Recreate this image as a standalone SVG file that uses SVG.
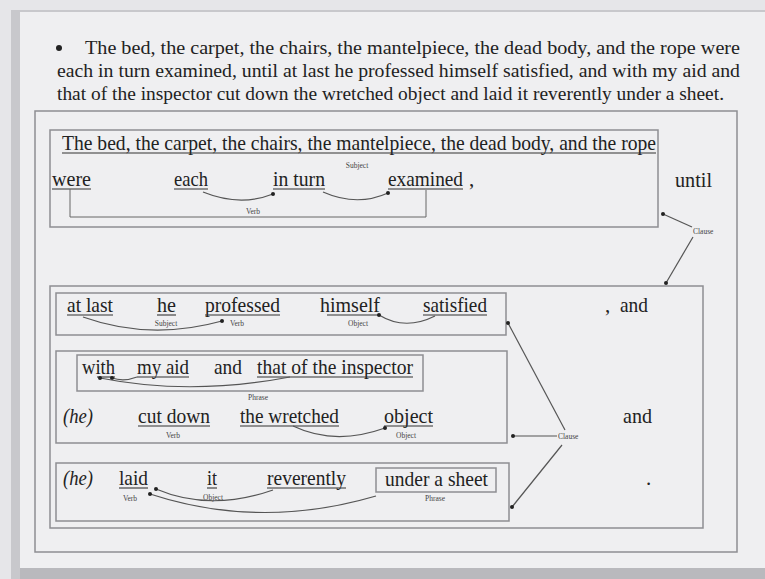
<svg xmlns="http://www.w3.org/2000/svg" width="765" height="579" viewBox="0 0 765 579">
<defs>
<style>
.t{font-family:"Liberation Serif","Times New Roman",serif;font-size:21px;fill:#222}
.h{font-size:19px}
.s{font-family:"Liberation Serif","Times New Roman",serif;font-size:7.5px;fill:#444}
.it{font-style:italic}
.box{fill:none;stroke:#8e8e92;stroke-width:1.5}
.ul{stroke:#333;stroke-width:1.1}
.arc{fill:none;stroke:#555;stroke-width:1.2;marker-end:url(#dot)}
.ln{fill:none;stroke:#666;stroke-width:1}
</style>
<marker id="dot" viewBox="0 0 4 4" refX="2" refY="2" markerWidth="4" markerHeight="4" markerUnits="userSpaceOnUse"><circle cx="2" cy="2" r="2" fill="#222"/></marker>
</defs>
<rect x="0" y="0" width="765" height="579" fill="#e6e6e9"/>
<rect x="11" y="10" width="754" height="569" fill="#c8c8cc"/>
<rect x="20" y="12" width="745" height="556" fill="#efeff1"/>
<rect x="20" y="568" width="745" height="11" fill="#b9b9bd"/>

<g id="header">
<circle cx="59" cy="48" r="3" fill="#222"/>
<text class="t h" x="85" y="54" textLength="655" lengthAdjust="spacingAndGlyphs">The bed, the carpet, the chairs, the mantelpiece, the dead body, and the rope were</text>
<text class="t h" x="57" y="77" textLength="683" lengthAdjust="spacingAndGlyphs">each in turn examined, until at last he professed himself satisfied, and with my aid and</text>
<text class="t h" x="57" y="100" textLength="667" lengthAdjust="spacingAndGlyphs">that of the inspector cut down the wretched object and laid it reverently under a sheet.</text>
</g>

<g id="outer-frame"><rect class="box" x="35" y="111" width="702" height="441"/></g>

<g id="clause-1">
<rect class="box" x="50" y="130" width="608" height="97"/>
<text class="t" x="62" y="150" textLength="594" lengthAdjust="spacingAndGlyphs">The bed, the carpet, the chairs, the mantelpiece, the dead body, and the rope</text>
<line class="ul" x1="62" y1="153" x2="656" y2="153"/>
<text class="s" x="357" y="168" text-anchor="middle">Subject</text>
<text class="t" x="52" y="186" textLength="39" lengthAdjust="spacingAndGlyphs">were</text>
<line class="ul" x1="52" y1="189" x2="91" y2="189"/>
<text class="t" x="174" y="186" textLength="34" lengthAdjust="spacingAndGlyphs">each</text>
<line class="ul" x1="174" y1="189" x2="208" y2="189"/>
<text class="t" x="273" y="186" textLength="52" lengthAdjust="spacingAndGlyphs">in turn</text>
<line class="ul" x1="273" y1="189" x2="325" y2="189"/>
<text class="t" x="388" y="186" textLength="75" lengthAdjust="spacingAndGlyphs">examined</text>
<line class="ul" x1="388" y1="189" x2="463" y2="189"/>
<text class="t" x="469" y="186">,</text>
<text class="s" x="253" y="214" text-anchor="middle">Verb</text>
</g>
<g id="until"><text class="t" x="675" y="187" textLength="37" lengthAdjust="spacingAndGlyphs">until</text></g>

<g id="clause-2-frame"><rect class="box" x="50" y="286" width="653" height="242"/></g>

<g id="clause-2a">
<rect class="box" x="56" y="293" width="450" height="42"/>
<text class="t" x="67" y="312" textLength="46" lengthAdjust="spacingAndGlyphs">at last</text>
<line class="ul" x1="67" y1="315" x2="113" y2="315"/>
<text class="t" x="157" y="312" textLength="19" lengthAdjust="spacingAndGlyphs">he</text>
<line class="ul" x1="157" y1="315" x2="176" y2="315"/>
<text class="t" x="205" y="312" textLength="75" lengthAdjust="spacingAndGlyphs">professed</text>
<line class="ul" x1="205" y1="315" x2="280" y2="315"/>
<text class="t" x="320" y="312" textLength="60" lengthAdjust="spacingAndGlyphs">himself</text>
<line class="ul" x1="327" y1="315" x2="379" y2="315"/>
<text class="t" x="423" y="312" textLength="64" lengthAdjust="spacingAndGlyphs">satisfied</text>
<line class="ul" x1="423" y1="315" x2="487" y2="315"/>
<text class="s" x="166" y="326" text-anchor="middle">Subject</text>
<text class="s" x="237" y="326" text-anchor="middle">Verb</text>
<text class="s" x="358" y="326" text-anchor="middle">Object</text>
</g>
<g id="and-1"><text class="t" x="605" y="312">,</text><text class="t" x="620" y="312" textLength="28" lengthAdjust="spacingAndGlyphs">and</text></g>

<g id="clause-2b">
<rect class="box" x="56" y="351" width="451" height="92"/>
<rect class="box" x="77" y="355" width="346" height="36"/>
<text class="t" x="82" y="374" textLength="33" lengthAdjust="spacingAndGlyphs">with</text>
<line class="ul" x1="97" y1="377" x2="115" y2="377"/>
<text class="t" x="137" y="374" textLength="52" lengthAdjust="spacingAndGlyphs">my aid</text>
<line class="ul" x1="137" y1="377" x2="189" y2="377"/>
<text class="t" x="214" y="374" textLength="28" lengthAdjust="spacingAndGlyphs">and</text>
<text class="t" x="257" y="374" textLength="156" lengthAdjust="spacingAndGlyphs">that of the inspector</text>
<line class="ul" x1="257" y1="377" x2="413" y2="377"/>
<text class="s" x="258" y="400" text-anchor="middle">Phrase</text>
<text class="t it" x="63" y="423" textLength="30" lengthAdjust="spacingAndGlyphs">(he)</text>
<text class="t" x="138" y="423" textLength="72" lengthAdjust="spacingAndGlyphs">cut down</text>
<line class="ul" x1="138" y1="426" x2="210" y2="426"/>
<text class="t" x="240" y="423" textLength="99" lengthAdjust="spacingAndGlyphs">the wretched</text>
<line class="ul" x1="240" y1="426" x2="339" y2="426"/>
<text class="t" x="384" y="423" textLength="49" lengthAdjust="spacingAndGlyphs">object</text>
<line class="ul" x1="384" y1="426" x2="433" y2="426"/>
<text class="s" x="173" y="438" text-anchor="middle">Verb</text>
<text class="s" x="406" y="438" text-anchor="middle">Object</text>
</g>
<g id="and-2"><text class="t" x="623" y="423" textLength="29" lengthAdjust="spacingAndGlyphs">and</text></g>

<g id="clause-2c">
<rect class="box" x="56" y="463" width="453" height="58"/>
<rect class="box" x="376" y="468" width="120" height="24"/>
<text class="t it" x="63" y="485" textLength="30" lengthAdjust="spacingAndGlyphs">(he)</text>
<text class="t" x="119" y="485" textLength="29" lengthAdjust="spacingAndGlyphs">laid</text>
<line class="ul" x1="119" y1="488" x2="148" y2="488"/>
<text class="t" x="207" y="485" textLength="10" lengthAdjust="spacingAndGlyphs">it</text>
<line class="ul" x1="207" y1="488" x2="217" y2="488"/>
<text class="t" x="267" y="485" textLength="79" lengthAdjust="spacingAndGlyphs">reverently</text>
<line class="ul" x1="267" y1="488" x2="346" y2="488"/>
<text class="t" x="385" y="486" textLength="103" lengthAdjust="spacingAndGlyphs">under a sheet</text>
<text class="s" x="130" y="501" text-anchor="middle">Verb</text>
<text class="s" x="213" y="500" text-anchor="middle">Object</text>
<text class="s" x="435" y="501" text-anchor="middle">Phrase</text>
</g>
<g id="period"><text class="t" x="646" y="485">.</text></g>

<g id="clause-labels">
<text class="s" x="693" y="234">Clause</text>
<text class="s" x="558" y="439">Clause</text>
</g>

<g id="connectors">
<path class="ln" d="M70,189 V217 H426 V190"/>
<path class="arc" d="M203,192 Q240,207 273,194"/>
<path class="arc" d="M323,192 Q357,207 388,193"/>
<path class="arc" d="M692,227 L663,214"/>
<path class="arc" d="M693,237 L666,283"/>
<path class="arc" d="M83,317 Q150,341 222,321"/>
<path class="arc" d="M435,316 Q405,331 379,315"/>
<path class="arc" d="M137,377 Q124,382 112,378"/>
<path class="arc" d="M290,377 Q190,396 100,378"/>
<path class="arc" d="M293,426 Q335,446 385,428"/>
<path class="arc" d="M273,490 Q210,512 156,489"/>
<path class="arc" d="M376,496 Q260,530 150,494"/>
<path class="arc" d="M565,430 L508,323"/>
<path class="arc" d="M557,436 L513,436"/>
<path class="arc" d="M562,445 L512,507"/>
</g>
</svg>
